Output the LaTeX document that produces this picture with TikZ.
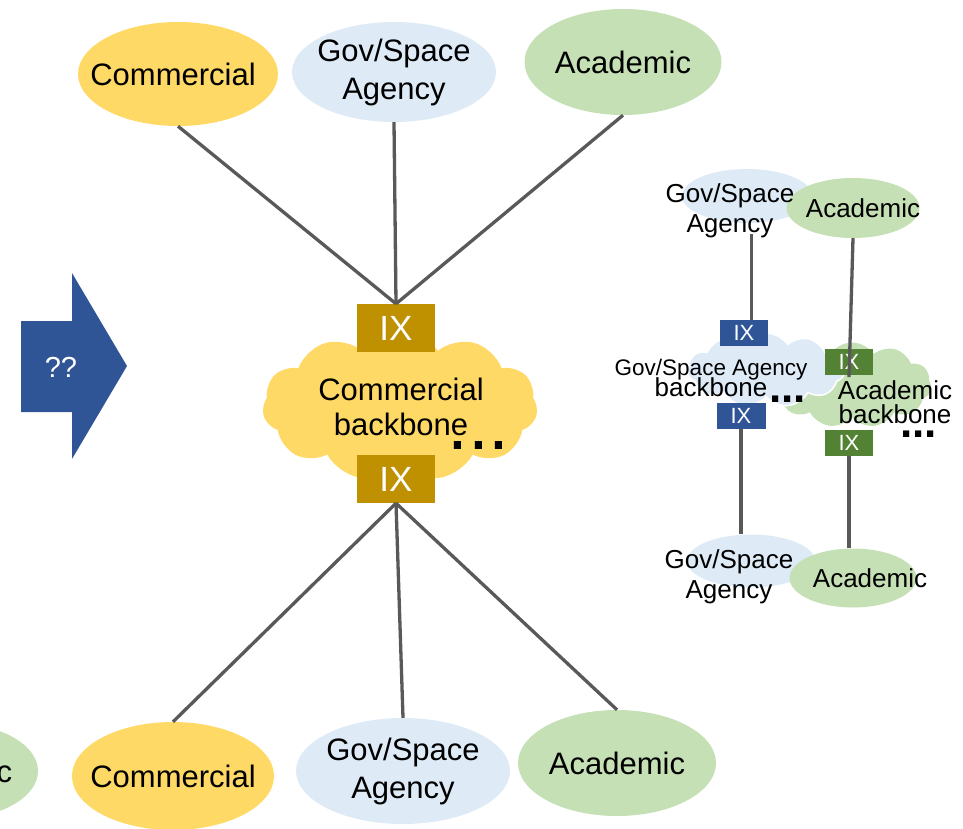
\documentclass[tikz,border=0pt]{standalone}
\usepackage{fontspec}
\setmainfont{Liberation Sans}
\usetikzlibrary{shapes.geometric,shapes.symbols}
\definecolor{cyel}{HTML}{FFD966}
\definecolor{cgold}{HTML}{BF9000}
\definecolor{clblue}{HTML}{DEEBF7}
\definecolor{cgreen}{HTML}{C5E0B4}
\definecolor{cblue}{HTML}{2F5597}
\definecolor{cdgreen}{HTML}{548235}
\definecolor{cline}{HTML}{595959}
\newcommand\fsz[2]{\fontsize{#1}{#2}\selectfont}
\begin{document}
\begin{tikzpicture}[x=1pt,y=-1pt,
  ell/.style={ellipse, inner sep=0pt},
  ftbig/.style={font=\fsz{31}{38}, align=center},
  ftsm/.style={font=\fsz{26}{30}, align=center},
  ixbig/.style={fill=cgold, text=white, inner sep=0pt, minimum width=78pt, minimum height=48pt, font=\fsz{35}{35}},
  ixsm/.style={inner sep=0pt, minimum width=48pt, minimum height=26pt, text=white, font=\fsz{22}{22}},
  conn/.style={draw=cline, line width=3.3pt},
  cloudsh/.style={cloud, cloud puffs=11, cloud puff arc=110, cloud ignores aspect, inner sep=0pt},
  dotsbig/.style={anchor=base west, inner sep=0pt, font=\fsz{75}{75}},
  dotssm/.style={anchor=base west, inner sep=0pt, font=\bfseries\fsz{44}{44}},
]
\useasboundingbox (0,0) rectangle (963,829);
\clip (0,0) rectangle (963,829);

% arrow
\fill[cblue] (21,321) -- (72,321) -- (72,273) -- (127,366) -- (72,459) -- (72,412) -- (21,412) -- cycle;
\node[text=white, font=\fsz{29}{29}] (q) at (61,367) {??};

% top ellipses
\node[ell, fill=cyel, minimum width=200pt, minimum height=104pt, label={[ftbig, xshift=-5pt]center:Commercial}] (c1) at (178,74) {};
\node[ell, fill=clblue, minimum width=204pt, minimum height=100pt, label={[ftbig]center:{Gov/Space\\Agency}}] (g1) at (394,72) {};
\node[ell, fill=cgreen, minimum width=197pt, minimum height=106pt, label={[ftbig]center:Academic}] (a1) at (623,62) {};

% commercial backbone
\node[cloudsh, fill=cyel, minimum width=275pt, minimum height=150pt] (cb) at (400,406) {};
\node[align=center, font=\fsz{31}{35}] (cbt) at (401,407) {Commercial\\backbone};
\node[ixbig] (ix1) at (396,328) {IX};
\node[ixbig] (ix2) at (396,479) {IX};
\node[dotsbig] (d1) at (447,449) {...};

% bottom ellipses
\node[ell, fill=cgreen, minimum width=172pt, minimum height=96pt, label={[ftbig, xshift=-8pt]center:Academic}] (a0) at (-48,771) {};
\node[ell, fill=cyel, minimum width=202pt, minimum height=108pt, label={[ftbig]center:Commercial}] (c2) at (173,776) {};
\node[ell, fill=clblue, minimum width=214pt, minimum height=106pt, label={[ftbig]center:{Gov/Space\\Agency}}] (g2) at (403,771) {};
\node[ell, fill=cgreen, minimum width=198pt, minimum height=106pt, label={[ftbig]center:Academic}] (a2) at (617,763) {};

\draw[conn] (c1.south) -- (ix1.north);
\draw[conn] (g1.south) -- (ix1.north);
\draw[conn] (a1.south) -- (ix1.north);
\draw[conn] (ix2.south) -- (c2.north);
\draw[conn] (ix2.south) -- (g2.north);
\draw[conn] (ix2.south) -- (a2.north);

% right cluster
\node[ell, fill=clblue, minimum width=130pt, minimum height=54pt] (gs1) at (747,196) {};
\node[ell, fill=cgreen, minimum width=133pt, minimum height=60pt] (aa1) at (853,208) {};
\node[anchor=base, ftsm] (gs1t) at (730,232) {Gov/Space\\Agency};
\node[anchor=base, ftsm] (aa1t) at (863,217) {Academic};

\node[cloudsh, fill=cgreen, minimum width=159pt, minimum height=85pt] (acb) at (852,385) {};
\node[cloudsh, fill=clblue, draw=white, line width=1.5pt, minimum width=157pt, minimum height=74pt] (gcb) at (766,370) {};
\node[anchor=base, align=center, inner sep=0pt, font=\fsz{22.5}{22}] (gcbt) at (711,396) {Gov/Space Agency\\[-4pt]{\fsz{26}{22}backbone}};
\node[anchor=base, align=center, inner sep=0pt, font=\fsz{26}{24}] (acbt) at (895,423) {Academic\\backbone};

\node[ixsm, fill=cblue] (ix3) at (744,333) {IX};
\node[ixsm, fill=cblue, minimum width=49pt] (ix4) at (741,416) {IX};
\node[ixsm, fill=cdgreen] (ix5) at (849,362) {IX};
\node[ixsm, fill=cdgreen] (ix6) at (849,443) {IX};
\node[dotssm] (d2) at (769,402) {...};
\node[dotssm] (d3) at (900,437) {...};

\node[ell, fill=clblue, minimum width=128pt, minimum height=53pt] (gs2) at (751,561) {};
\node[ell, fill=cgreen, minimum width=127pt, minimum height=59pt] (aa2) at (853,578) {};
\node[anchor=base, ftsm] (gs2t) at (729,598) {Gov/Space\\Agency};
\node[anchor=base, ftsm] (aa2t) at (870,587) {Academic};

\draw[conn] (ix3.60) -- ([yshift=-11pt]gs1.south -| ix3.60);
\draw[conn] (aa1.south) -- ([yshift=-2pt]ix5.south);
\draw[conn] (ix4.south) -- (ix4.south |- gs2.north);
\draw[conn] (ix6.south) -- (ix6.south |- aa2.north);
\end{tikzpicture}
\end{document}
